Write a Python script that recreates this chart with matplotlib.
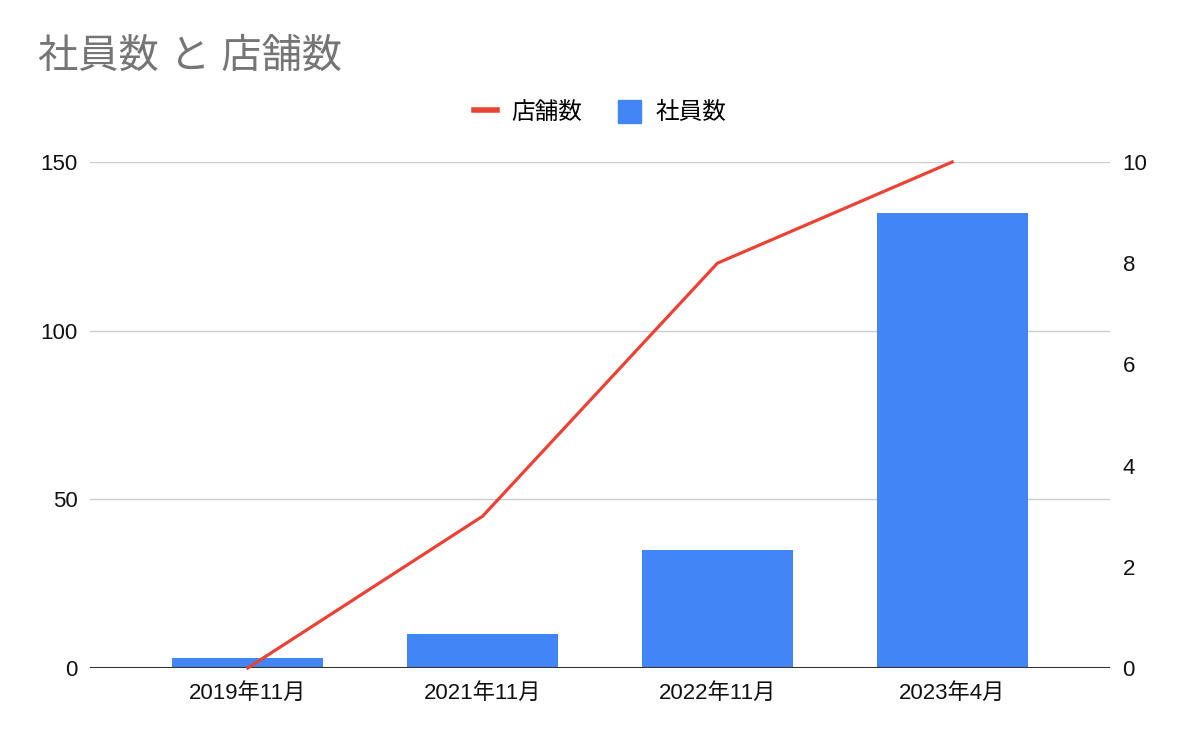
import numpy as np
import matplotlib
matplotlib.use("Agg")
import matplotlib.pyplot as plt
from matplotlib.lines import Line2D
from matplotlib.patches import Patch

plt.rcParams['font.family'] = ['Liberation Sans', 'Noto Sans CJK JP', 'DejaVu Sans']

categories = ["2019年11月", "2021年11月", "2022年11月", "2023年4月"]
employees = [3, 10, 35, 135]   # 社員数 (left axis)
stores = [0, 3, 8, 10]         # 店舗数 (right axis)

BAR_COLOR = '#4285f4'
LINE_COLOR = '#ea4335'


def main():
    fig = plt.figure(figsize=(12, 7.42), dpi=100)
    ax = fig.add_axes([0.075, 0.0997, 0.85, 0.682])
    ax2 = ax.twinx()

    x = np.arange(len(categories))
    ax.bar(x, employees, width=0.643, color=BAR_COLOR, zorder=2)
    ax.set_ylim(0, 150)
    ax.set_yticks([0, 50, 100, 150])
    ax.set_xlim(-0.672, len(categories) - 1 + 0.672)
    ax.set_xticks(x)
    ax.set_xticklabels(categories)
    ax.grid(axis='y', color='#cccccc', linewidth=1, zorder=0)
    ax.set_axisbelow(True)

    ax2.plot(x, stores, color=LINE_COLOR, linewidth=2.3, zorder=3, clip_on=False)
    ax2.set_ylim(0, 10)
    ax2.set_yticks([0, 2, 4, 6, 8, 10])

    for a in (ax, ax2):
        for side in ('top', 'left', 'right', 'bottom'):
            a.spines[side].set_visible(False)
        a.tick_params(length=0, labelsize=16, colors='#111111')
    ax.tick_params(axis='y', pad=9)
    ax2.tick_params(axis='y', pad=9)
    ax.tick_params(axis='x', pad=11)
    ax.axhline(0, color='#333333', linewidth=1.5, zorder=4)

    fig.text(0.032, 0.924, "社員数 と 店舗数", fontsize=29, color='#757575',
             ha='left', va='center')

    handles = [Line2D([0], [0], color=LINE_COLOR, linewidth=4),
               Patch(facecolor=BAR_COLOR, edgecolor=BAR_COLOR)]
    fig.legend(handles, ["店舗数", "社員数"], loc='center', bbox_to_anchor=(0.5, 0.849),
               ncol=2, frameon=False, fontsize=17, handlelength=1.0, handleheight=1.1,
               columnspacing=1.5, handletextpad=0.6)

    fig.savefig("out.png", dpi=100)


if __name__ == "__main__":
    main()
